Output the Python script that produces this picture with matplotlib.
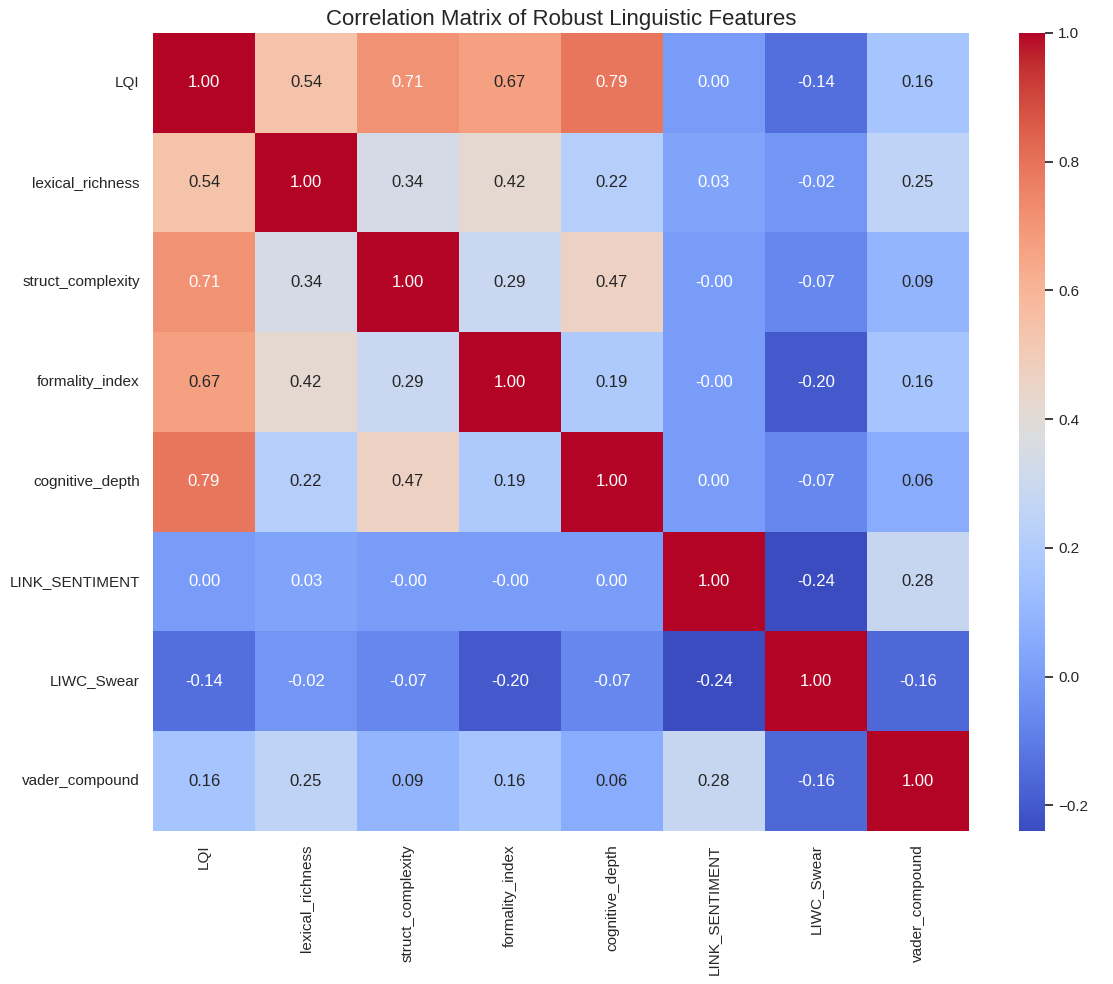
import matplotlib
matplotlib.use("Agg")
import matplotlib.pyplot as plt
import seaborn as sns
import numpy as np
import pandas as pd

features = ["LQI", "lexical_richness", "struct_complexity", "formality_index",
            "cognitive_depth", "LINK_SENTIMENT", "LIWC_Swear", "vader_compound"]

row_LQI = [1.00, 0.54, 0.71, 0.67, 0.79, 0.00, -0.14, 0.16]
row_lex = [0.54, 1.00, 0.34, 0.42, 0.22, 0.03, -0.02, 0.25]
row_struct = [0.71, 0.34, 1.00, 0.29, 0.47, -0.001, -0.07, 0.09]
row_form = [0.67, 0.42, 0.29, 1.00, 0.19, -0.001, -0.20, 0.16]
row_cog = [0.79, 0.22, 0.47, 0.19, 1.00, 0.00, -0.07, 0.06]
row_link = [0.00, 0.03, -0.001, -0.001, 0.00, 1.00, -0.24, 0.28]
row_swear = [-0.14, -0.02, -0.07, -0.20, -0.07, -0.24, 1.00, -0.16]
row_vader = [0.16, 0.25, 0.09, 0.16, 0.06, 0.28, -0.16, 1.00]

corr = pd.DataFrame([row_LQI, row_lex, row_struct, row_form, row_cog,
                     row_link, row_swear, row_vader],
                    index=features, columns=features)

sns.set_theme(style="white")
plt.rcParams['font.family'] = ['Liberation Sans', 'DejaVu Sans']

fig = plt.figure(figsize=(11.13, 9.84), dpi=100)
ax = fig.add_axes([0.1375, 0.1555, 0.733, 0.811])
cax = fig.add_axes([0.9155, 0.1555, 0.0234, 0.811])

sns.heatmap(corr, annot=True, fmt=".2f", cmap="coolwarm", ax=ax, cbar_ax=cax,
            annot_kws={"size": 12})
ax.set_title("Correlation Matrix of Robust Linguistic Features", fontsize=16)
ax.tick_params(axis='both', labelsize=11)
plt.setp(ax.get_xticklabels(), rotation=90)
plt.setp(ax.get_yticklabels(), rotation=0)
cax.tick_params(labelsize=11)

fig.savefig("out.png", dpi=100)
